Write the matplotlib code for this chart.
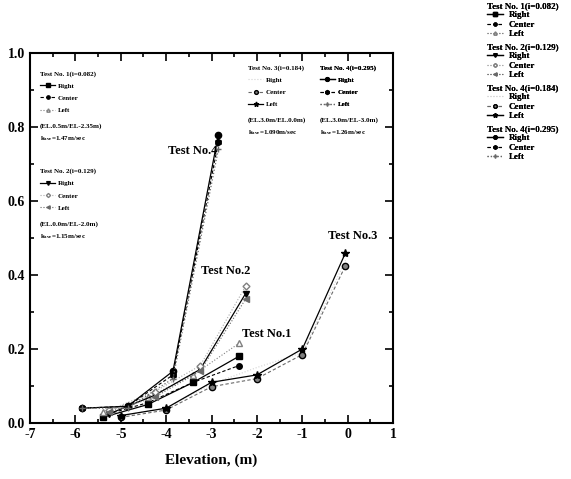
import matplotlib
matplotlib.use("Agg")
import matplotlib.pyplot as plt
from matplotlib.ticker import MultipleLocator

plt.rcParams['font.family'] = 'Liberation Serif'
plt.rcParams['font.weight'] = 'bold'
plt.rcParams['mathtext.fontset'] = 'custom'
plt.rcParams['mathtext.rm'] = 'Liberation Serif:bold'
plt.rcParams['mathtext.it'] = 'Liberation Serif:bold'
plt.rcParams['axes.unicode_minus'] = False

# Test No.1 (i=0.082)
t1_x = [-5.4, -4.4, -3.4, -2.4]
t1_right = [0.015, 0.05, 0.11, 0.18]
t1_center = [0.02, 0.055, 0.11, 0.155]
t1_left = [0.03, 0.07, 0.13, 0.215]
# Test No.2 (i=0.129)
t2_x = [-5.25, -4.25, -3.25, -2.25]
t2_right = [0.025, 0.075, 0.145, 0.35]
t2_center = [0.035, 0.085, 0.155, 0.37]
t2_left = [0.03, 0.07, 0.14, 0.335]
# Test No.3 (i=0.184)
t3_x = [-5.0, -4.0, -3.0, -2.0, -1.0, -0.05]
t3_right = [0.02, 0.04, 0.105, 0.15, 0.19, 0.44]
t3_center = [0.015, 0.035, 0.098, 0.12, 0.185, 0.425]
t3_left = [0.02, 0.04, 0.11, 0.13, 0.20, 0.46]
# Test No.4 (i=0.295)
t4_x = [-5.85, -4.85, -3.85, -2.85]
t4_right = [0.04, 0.045, 0.14, 0.78]
t4_center = [0.04, 0.045, 0.13, 0.76]
t4_left = [0.04, 0.04, 0.12, 0.74]

titles = ["Test No. 1(i=0.082)", "Test No. 2(i=0.129)", "Test No. 4(i=0.184)", "Test No. 4(i=0.295)"]
inner_titles = ["Test No. 1(i=0.082)", "Test No. 2(i=0.129)", "Test No. 3(i=0.184)", "Test No. 4(i=0.295)"]
sides = ["Right", "Center", "Left"]
el_text = ["(EL.0.5m/EL-2.35m)", "(EL.0.0m/EL-2.0m)", "(EL.3.0m/EL.0.0m)", "(EL.3.0m/EL-3.0m)"]
k_text = ["1.47m/sec", "1.15m/sec", "1.090m/sec", "1.26m/sec"]
curve_labels = ["Test No.1", "Test No.2", "Test No.3", "Test No.4"]

fig = plt.figure(figsize=(5.71, 4.79), dpi=100)
ax = fig.add_axes([0.0525, 0.117, 0.636, 0.772])

groups = []
# test 1
h = []
h += ax.plot(t1_x, t1_right, '-', color='black', marker='s', ms=4, lw=0.9)
h += ax.plot(t1_x, t1_center, '--', color='black', marker='o', ms=4, lw=0.8, dashes=(3, 2))
h += ax.plot(t1_x, t1_left, ':', color='gray', marker='^', ms=4, mfc='white', mec='gray', lw=0.8)
groups.append(h)
# test 2
h = []
h += ax.plot(t2_x, t2_right, '-', color='black', marker='v', ms=4.5, lw=0.9)
h += ax.plot(t2_x, t2_center, ':', color='darkgray', marker='D', ms=3.5, mfc='white', mec='gray', lw=0.8)
h += ax.plot(t2_x, t2_left, ':', color='dimgray', marker='<', ms=4, lw=0.8)
groups.append(h)
# test 3
h = []
h += ax.plot(t3_x, t3_right, ':', color='lightgray', lw=0.8)
h += ax.plot(t3_x, t3_center, '--', color='dimgray', marker='o', ms=4.5, mfc='gray', mec='black', lw=0.8, dashes=(3, 2))
h += ax.plot(t3_x, t3_left, '-', color='black', marker='*', ms=6, lw=0.9)
groups.append(h)
# test 4
h = []
h += ax.plot(t4_x, t4_right, '-', color='black', marker='o', ms=4.5, lw=0.9)
h += ax.plot(t4_x, t4_center, '--', color='black', marker='h', ms=4.5, lw=0.8, dashes=(3, 2))
h += ax.plot(t4_x, t4_left, ':', color='dimgray', marker='+', ms=5, lw=0.9)
groups.append(h)

ax.set_xlim(-7, 1)
ax.set_ylim(0, 1.0)
ax.xaxis.set_major_locator(MultipleLocator(1))
ax.xaxis.set_minor_locator(MultipleLocator(0.5))
ax.yaxis.set_major_locator(MultipleLocator(0.2))
ax.yaxis.set_minor_locator(MultipleLocator(0.1))
ax.tick_params(which='both', direction='in', top=True, right=True, labelsize=10, width=1.2)
ax.tick_params(which='major', length=6)
ax.tick_params(which='minor', length=3)
for s in ax.spines.values():
    s.set_linewidth(1.5)
ax.set_xlabel("Elevation, (m)", fontsize=11, fontweight='bold', labelpad=9)

# curve names
ax.text(-2.87, 0.735, curve_labels[3], fontsize=9, ha='right', va='center')
ax.text(-2.69, 0.41, curve_labels[1], fontsize=9, ha='center', va='center')
ax.text(-1.79, 0.24, curve_labels[0], fontsize=9, ha='center', va='center')
ax.text(0.12, 0.505, curve_labels[2], fontsize=9, ha='center', va='center')

# small legends inside the axes
anchors = [(-6.78, 0.952), (-6.78, 0.688), (-2.2, 0.968), (-0.62, 0.968)]
row = 0.034
for g, t, el, k, (x0, y0) in zip(groups, inner_titles, el_text, k_text, anchors):
    lg = ax.legend(g, sides, loc='upper left', bbox_to_anchor=(x0, y0),
                   bbox_transform=ax.transData, frameon=False, fontsize=5,
                   title=t, title_fontsize=5, alignment='left', borderpad=0,
                   labelspacing=0.9, handlelength=2.2, handletextpad=0.4,
                   markerscale=0.6, borderaxespad=0)
    ax.add_artist(lg)
    ax.text(x0, y0 - 4.4 * row, el, fontsize=5, va='center')
    ax.text(x0, y0 - 5.4 * row, r'k$_{ave}$=' + k, fontsize=5, va='center')

# legend on the right
block = 41 / 479
for n, (g, t) in enumerate(zip(groups, titles)):
    lg = fig.legend(g, sides, loc='upper left', bbox_to_anchor=(0.853, 0.996 - n * block),
                    frameon=False, fontsize=6.5, title=t, title_fontsize=6.5,
                    alignment='left', borderpad=0, labelspacing=0.12,
                    handlelength=1.8, handletextpad=0.6, markerscale=0.55,
                    borderaxespad=0)
    fig.add_artist(lg)

fig.savefig("out.png", dpi=100)
